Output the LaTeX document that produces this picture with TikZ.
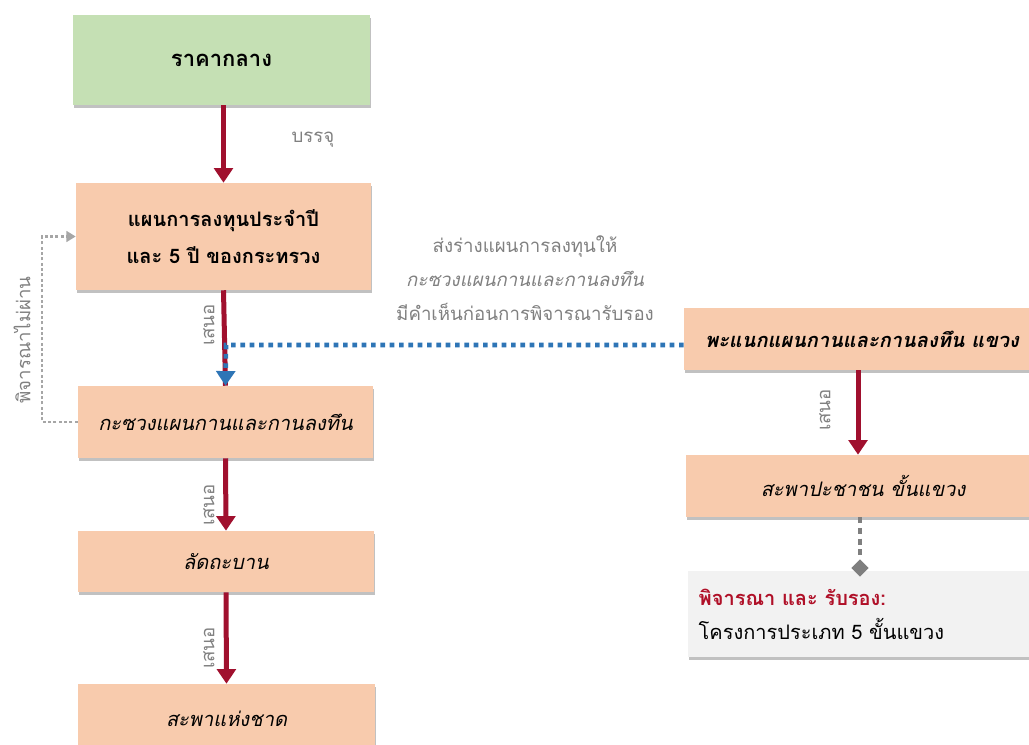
\documentclass[tikz,border=0pt]{standalone}
\usepackage{fontspec}
\setmainfont[Script=Thai]{Loma}
\usetikzlibrary{arrows.meta,shapes.geometric,shadows}
\definecolor{peach}{HTML}{F8CBAD}
\definecolor{lgreen}{HTML}{C5E0B4}
\definecolor{darkred}{HTML}{A0102E}
\definecolor{dblue}{HTML}{2E75B6}
\definecolor{labgray}{HTML}{808080}
\definecolor{fbgray}{HTML}{A6A6A6}
\definecolor{dmgray}{HTML}{7F7F7F}
\definecolor{notefill}{HTML}{F2F2F2}
\definecolor{notered}{HTML}{B01028}
\begin{document}
\begin{tikzpicture}[x=0.75pt,y=-0.75pt,
  boxbase/.style={rectangle, inner sep=0pt, align=center,
    drop shadow={shadow xshift=1pt, shadow yshift=-2.5pt, opacity=0.35, fill=black!70}},
  pbox/.style={boxbase, fill=peach},
  gbox/.style={boxbase, fill=lgreen},
  boxfont/.style={font=\fontsize{15}{28}\selectfont},
  redarrow/.style={draw=darkred, line width=3.75pt, -{Triangle[width=14pt,length=11pt]}},
  redline/.style={draw=darkred, line width=3.75pt},
  bluedot/.style={draw=dblue, line width=3.5pt, dash pattern=on 3.5pt off 3.5pt, -{Triangle[width=14pt,length=11pt]}},
  fbline/.style={draw=fbgray, line width=2.2pt, dash pattern=on 2.2pt off 1.8pt, -{Triangle[width=8pt,length=7pt]}},
  dmline/.style={draw=dmgray, line width=3.5pt, dash pattern=on 4.5pt off 3.5pt},
  lab/.style={text=labgray, font=\fontsize{14}{16}\selectfont},
  vlab/.style={lab, rotate=90}
]
\useasboundingbox (0,0) rectangle (1029,745);

% left column
\node[gbox, font=\fontsize{16.5}{28}\selectfont, minimum width=222.75pt, minimum height=67.5pt] (g) at (221.5,60) {\bfseries ราคากลาง};
\node[pbox, boxfont, minimum width=221.25pt, minimum height=80.25pt] (b2) at (223.5,236.5) {\bfseries แผนการลงทุนประจำปี\\\bfseries และ 5 ปี ของกระทรวง};
\node[pbox, boxfont, minimum width=221.25pt, minimum height=54pt] (b3) at (225.5,422) {\itshape กะซวงแผนกานและกานลงทึน};
\node[pbox, boxfont, minimum width=222pt, minimum height=45.75pt] (b4) at (226,561.5) {\itshape ลัดถะบาน};
\node[pbox, boxfont, minimum width=222.75pt, minimum height=52.5pt] (b5) at (226.5,719) {\itshape สะพาแห่งชาด};

% right column
\node[pbox, boxfont, minimum width=267pt, minimum height=46.5pt] (r1) at (862,339) {\bfseries\itshape พะแนกแผนกานและกานลงทึน แขวง};
\node[pbox, boxfont, minimum width=265.5pt, minimum height=46.5pt] (r2) at (863,486) {\itshape สะพาปะชาชน ขั้นแขวง};
\node[boxbase, fill=notefill, font=\fontsize{15}{25.5}\selectfont, minimum height=64.5pt, text width=248pt, inner xsep=8pt, align=left] (nt) at (864,614) {{\color{notered}\bfseries พิจารณา และ รับรอง:}\\โครงการประเภท 5 ขั้นแขวง};
\node[diamond, fill=dmgray, inner sep=0pt, minimum width=13pt, minimum height=13pt] (dm) at (860,568) {};

% connectors
\draw[redarrow] (b2.north |- g.south) -- (b2.north);
\draw[redline] (b2.south) -- (b3.north);
\coordinate (bj) at (226,345);
\draw[bluedot] (r1.west |- bj) -- (bj) -- (b3.north);
\draw[redarrow] (b3.south) -- (b4.north);
\draw[redarrow] (b4.south) -- (b5.north);
\draw[redarrow] (r1.south -| 858,0) -- (r2.north -| 858,0);
\draw[dmline] (r2.south -| dm.north) -- (dm.north);
\coordinate (fb) at (42,422);
\draw[fbline] (b3.west) -- (fb) |- (b2.west);

% labels
\node[lab] (l1) at (313,140) {บรรจุ};
\node[vlab] (l2) at (209,325) {เสนอ};
\node[vlab] (l3) at (209,505) {เสนอ};
\node[vlab] (l4) at (209,648) {เสนอ};
\node[vlab] (l5) at (825,410) {เสนอ};
\node[vlab] (l6) at (22,340) {พิจารณาไม่ผ่าน};
\node[lab, align=center, font=\fontsize{14}{25.5}\selectfont] (mid) at (525,278) {ส่งร่างแผนการลงทุนให้\\\itshape กะซวงแผนกานและกานลงทึน\\มีคำเห็นก่อนการพิจารณารับรอง};
\end{tikzpicture}
\end{document}
